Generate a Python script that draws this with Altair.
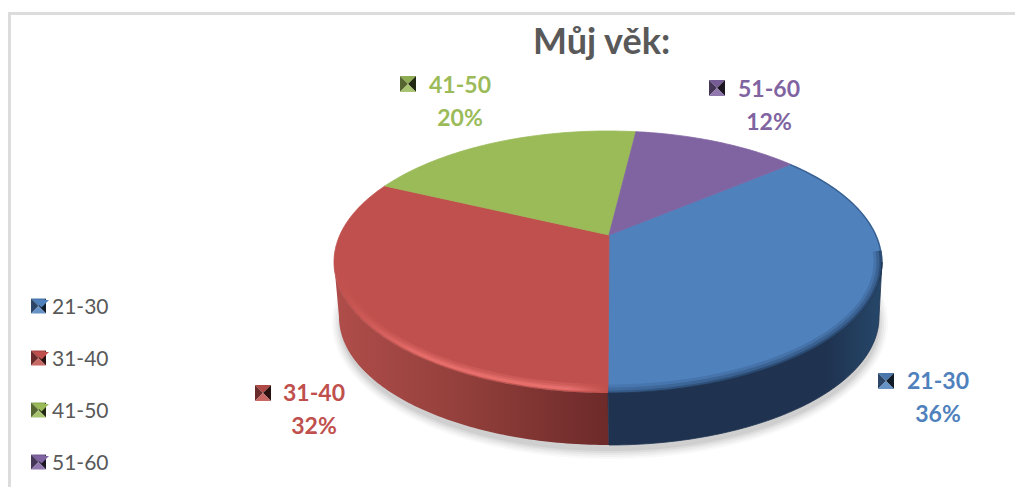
import math
import altair as alt
import pandas as pd

# ---- values
ages = ["21-30", "31-40", "41-50", "51-60"]
shares = [36, 32, 20, 12]
colors = ["#4f81bd", "#c0504d", "#9bbb59", "#8064a2"]
title_text = "Můj věk:"

# ---- layout of the drawing (page pixels minus the 8px margin)
W, H = 1007, 479
M = 8
CX, CY, RX, RY = 608 - M, 262 - M, 274, 131
BX, BY, BRX, BRY = 609 - M, 317 - M, 270, 128
K = 0.812            # perspective squeeze of the pie angles
START = 50.4         # first slice starting angle, clockwise from the top

LABEL_AT = {"21-30": (938, 382), "31-40": (314, 394), "41-50": (460, 86), "51-60": (769, 90)}
MARK_AT = {"21-30": (886, 381), "31-40": (263, 393), "41-50": (408, 84), "51-60": (717, 88)}
LEGEND_Y = [306, 358, 410, 462]
LEGEND_X = 38.5

# pyramid swatch faces
TOP_FACE = "M-1,-1L1,-1L0,0Z"
LEFT_FACE = "M-1,-1L0,0L-1,1Z"
RIGHT_FACE = "M1,-1L1,1L0,0Z"
BOTTOM_FACE = "M-1,1L0,0L1,1Z"

xs = alt.Scale(domain=[0, W], range=[0, W], nice=False, zero=False)
ys = alt.Scale(domain=[0, H], range=[0, H], nice=False, zero=False)
X = alt.X("x:Q", scale=xs, axis=None)
Y = alt.Y("y:Q", scale=ys, axis=None)


def persp(phi):
    return math.degrees(2 * math.atan2(K * math.sin(math.radians(phi / 2)), math.cos(math.radians(phi / 2))))


def on_ell(t, cx=CX, cy=CY, rx=RX, ry=RY):
    return cx + rx * math.sin(math.radians(t)), cy - ry * math.cos(math.radians(t))


def shade(c, f):
    r, g, b = [int(c[i:i + 2], 16) for i in (1, 3, 5)]
    if f <= 1:
        v = [r * f, g * f, b * f]
    else:
        v = [r + (255 - r) * (f - 1), g + (255 - g) * (f - 1), b + (255 - b) * (f - 1)]
    return "#%02x%02x%02x" % tuple(int(a) for a in v)


# slices of the top face
rows = []
a = START
bounds = []
for age, s in zip(ages, shares):
    b = a + s * 3.6
    bounds.append((a, b))
    pts = [(CX + 1, CY - 27)]
    n = max(int(b - a), 2)
    for j in range(n + 1):
        pts.append(on_ell(persp(a + (b - a) * j / n)))
    pts.append((CX + 1, CY - 27))
    for i, (x, y) in enumerate(pts):
        rows.append(dict(age=age, i=i, x=x, y=y))
    a = b
slices = pd.DataFrame(rows)

order_scale = alt.Scale(domain=ages, range=colors)
top = alt.Chart(slices).mark_line(filled=True, strokeWidth=0.8, strokeJoin="round").encode(
    x=X, y=Y, order=alt.Order("i:Q"),
    stroke=alt.Stroke("age:N", scale=order_scale, legend=None),
    color=alt.Color(
        "age:N", scale=order_scale,
        legend=alt.Legend(
            orient="none", legendX=23, legendY=289, title=None, padding=0,
            symbolType=TOP_FACE, symbolSize=225, symbolStrokeWidth=0,
            labelFont="Lato", labelFontSize=21, labelColor="#595959", labelOffset=0,
            rowPadding=30, labelLimit=200,
        ),
    ),
)


def band(t0, t1, inset=0.0, cx=CX, cy=CY, rx=RX, ry=RY):
    n = max(int(abs(t1 - t0)), 2)
    return [on_ell(t0 + (t1 - t0) * j / n, cx, cy, rx - inset, ry - inset) for j in range(n + 1)]


def line_df(pts):
    return pd.DataFrame([dict(i=i, x=p[0], y=p[1]) for i, p in enumerate(pts)])


def grad(stops):
    return alt.LinearGradient(
        gradient="linear", x1=0, x2=1, y1=0, y2=0,
        stops=[alt.GradientStop(color=c, offset=o) for o, c in stops],
    )


layers = []

# soft shadow under the pie
for grow, op in [(8, 0.05), (6, 0.07), (4, 0.09), (2, 0.12), (0, 0.16)]:
    pts = band(0, 360, 0, BX + 1, BY + 6, BRX + grow, BRY + grow)
    layers.append(alt.Chart(line_df(pts)).mark_line(filled=True, fill="#8c8c8c", opacity=op, strokeWidth=0).encode(
        x=X, y=Y, order=alt.Order("i:Q")))

layers.append(top)

# highlight / dark bevel along the front rim of the top face
red_glow = grad([(0, "#c0504d"), (0.3, "#ee7370"), (0.85, "#f07875"), (1, "#c0504d")])
blue_dark = grad([(0, "#2d4f78"), (0.5, "#1f3a5c"), (1, "#1f3a5c")])
red_mid = persp(bounds[1][0]) % 360
blue_end = red_mid
for inset, w, op in [(5, 8, 0.25), (4, 5, 0.35), (3, 3, 0.6)]:
    layers.append(alt.Chart(line_df(band(red_mid, 268, inset))).mark_line(
        stroke=red_glow, strokeWidth=w, opacity=op).encode(x=X, y=Y, order=alt.Order("i:Q")))
for inset, w, op in [(4, 9, 0.2), (2.5, 6, 0.3), (1, 3, 0.55)]:
    layers.append(alt.Chart(line_df(band(85, blue_end, inset))).mark_line(
        stroke=blue_dark, strokeWidth=w, opacity=op).encode(x=X, y=Y, order=alt.Order("i:Q")))

# thin dark edge on the right of the blue slice
edge_end = persp(bounds[0][0]) % 360
layers.append(alt.Chart(line_df(band(edge_end, 95, 0.5))).mark_line(
    stroke="#2d4f78", strokeWidth=1.2, opacity=0.7).encode(x=X, y=Y, order=alt.Order("i:Q")))

# side wall
wall_blue = band(90, blue_end) + band(blue_end, 90, 0, BX, BY, BRX, BRY)
wall_red = band(red_mid, 270) + band(270, red_mid, 0, BX, BY, BRX, BRY)
layers.append(alt.Chart(line_df(wall_red + wall_red[:1])).mark_line(
    filled=True, strokeWidth=0,
    fill=grad([(0, "#b04d4a"), (0.45, "#94403c"), (1, "#6c2a29")])).encode(x=X, y=Y, order=alt.Order("i:Q")))
layers.append(alt.Chart(line_df(wall_blue + wall_blue[:1])).mark_line(
    filled=True, stroke="#1f3350", strokeWidth=0.8,
    fill=grad([(0, "#1f3350"), (0.8, "#1f3350"), (1, "#26476a")])).encode(x=X, y=Y, order=alt.Order("i:Q")))

# frame lines
frame = pd.DataFrame({"k": [0]})
layers.append(alt.Chart(frame).mark_rule(color="#dcdcdc", strokeWidth=3).encode(
    x=alt.value(1), x2=alt.value(W), y=alt.value(5.5)))
layers.append(alt.Chart(frame).mark_rule(color="#dcdcdc", strokeWidth=3).encode(
    x=alt.value(1.5), y=alt.value(4), y2=alt.value(H)))

# data labels
lab = []
for age, s, c in zip(ages, shares, colors):
    lx, ly = LABEL_AT[age]
    lab.append(dict(x=lx - M, y=ly - M, t=age, c=c))
    lab.append(dict(x=lx - M, y=ly - M + 33, t=f"{s}%", c=c))
layers.append(alt.Chart(pd.DataFrame(lab)).mark_text(
    font="Lato", fontWeight="bold", fontSize=23, align="center", baseline="middle").encode(
    x=X, y=Y, text="t:N", fill=alt.Fill("c:N", scale=None)))

# pyramid swatches: label swatches get all four faces, the legend symbol is the top face
marks = []
for age, c, ly in zip(ages, colors, LEGEND_Y):
    mx, my = MARK_AT[age]
    marks.append(dict(x=mx - M, y=my - M, c=c, s=256))
    marks.append(dict(x=LEGEND_X - M, y=ly - M, c=c, s=225))
mdf = pd.DataFrame(marks)
for shape, f in [(TOP_FACE, 0.92), (LEFT_FACE, 0.55), (RIGHT_FACE, 0.22), (BOTTOM_FACE, 1.14)]:
    d = mdf.copy()
    d["f"] = [shade(c, f) for c in d["c"]]
    layers.append(alt.Chart(d).mark_point(filled=True, shape=shape, opacity=1, strokeWidth=0).encode(
        x=X, y=Y, fill=alt.Fill("f:N", scale=None), size=alt.Size("s:Q", scale=None)))

chart = alt.layer(*layers).properties(
    width=W, height=H, padding=0,
    autosize=alt.AutoSizeParams(type="none"),
    title=alt.TitleParams(
        title_text, font="Lato", fontSize=36, fontWeight="bold", color="#595959",
        anchor="start", frame="group", dx=525, dy=54, offset=0,
    ),
).configure_view(strokeWidth=0)

chart.save("out.html", embed_options={"renderer": "svg", "actions": False})
